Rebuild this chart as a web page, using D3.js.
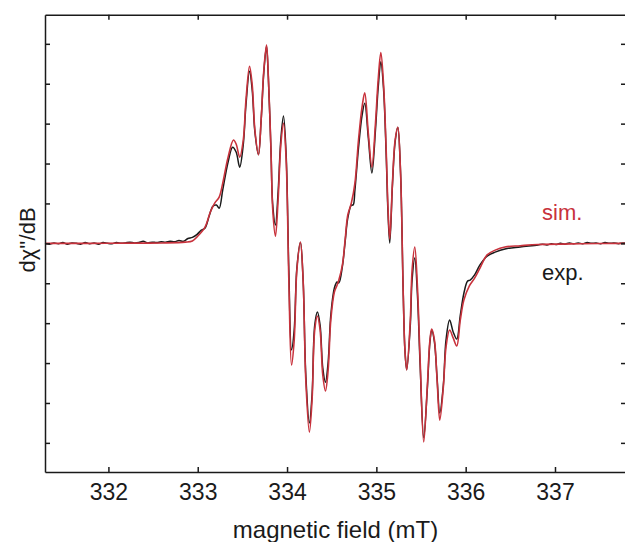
<!DOCTYPE html>
<html>
<head>
<meta charset="utf-8">
<script src="https://cdn.jsdelivr.net/npm/d3@7"></script>
<style>
  body { margin: 0; background: #fff; }
  svg { display: block; font-family: "Liberation Sans", Arial, sans-serif; }
</style>
</head>
<body>
<svg id="chart" width="625" height="542"></svg>
<script>
// tick values
const xTicks = [332, 333, 334, 335, 336, 337];
const yTicks = [-5, -4, -3, -2, -1, 0, 1, 2, 3, 4, 5];

// simulated spectrum (field in mT, derivative signal in arb. units)
const simField = [331.29, 331.8, 332.3, 332.6, 332.86, 332.94, 333.00, 333.08, 333.14, 333.19,
  333.24, 333.28, 333.34, 333.40, 333.43, 333.47, 333.51, 333.54, 333.58, 333.61,
  333.64, 333.68, 333.71, 333.74, 333.77, 333.79, 333.82, 333.84, 333.87, 333.90,
  333.93, 333.96, 333.99, 334.02, 334.05, 334.08, 334.11, 334.15, 334.18, 334.21,
  334.25, 334.28, 334.31, 334.34, 334.37, 334.40, 334.43, 334.46, 334.49, 334.53,
  334.56, 334.58, 334.62, 334.65, 334.68, 334.72, 334.76, 334.80, 334.84, 334.87,
  334.91, 334.95, 334.99, 335.02, 335.05, 335.08, 335.11, 335.13, 335.15, 335.18,
  335.21, 335.24, 335.27, 335.30, 335.32, 335.34, 335.38, 335.40, 335.43, 335.46,
  335.49, 335.53, 335.57, 335.60, 335.62, 335.65, 335.68, 335.71, 335.75, 335.78,
  335.82, 335.86, 335.90, 335.94, 335.98, 336.04, 336.10, 336.16, 336.24, 336.33,
  336.44, 336.61, 336.81, 337.28, 337.80];
const simValues = [0.00, 0.00, 0.005, 0.01, 0.03, 0.06, 0.18, 0.40, 0.78, 1.01,
  1.16, 1.51, 2.16, 2.59, 2.49, 2.16, 2.59, 3.59, 4.44, 3.97,
  2.84, 2.22, 3.09, 4.34, 4.97, 4.22, 2.34, 0.83, 0.18, 1.09,
  2.46, 3.01, 2.09, -0.92, -3.05, -2.43, -0.67, 0.03, -0.92, -3.43,
  -4.73, -3.93, -2.17, -1.82, -2.17, -3.30, -3.70, -3.18, -1.92, -1.22,
  -1.05, -0.92, -0.54, 0.08, 0.71, 1.01, 1.51, 2.59, 3.42, 3.77,
  2.76, 1.91, 3.01, 4.09, 4.78, 4.01, 2.34, 0.91, 0.11, 1.51,
  2.59, 2.91, 1.83, -1.17, -2.68, -3.17, -1.92, -0.67, -0.09, -1.09,
  -2.92, -4.98, -3.60, -2.42, -2.15, -2.42, -3.43, -4.43, -3.60, -2.60,
  -2.17, -2.37, -2.57, -1.92, -1.42, -1.07, -0.87, -0.62, -0.29, -0.17,
  -0.09, -0.06, -0.03, -0.01, 0.00];

// experimental spectrum
const expField = [331.29, 331.34, 331.39, 331.44, 331.49, 331.54, 331.59, 331.64, 331.69, 331.74,
  331.79, 331.84, 331.89, 331.94, 331.99, 332.04, 332.09, 332.14, 332.19, 332.24,
  332.29, 332.34, 332.39, 332.44, 332.49, 332.54, 332.59, 332.64, 332.69, 332.74,
  332.79, 332.84, 332.89, 332.94, 332.99, 333.04, 333.08, 333.13, 333.17, 333.21,
  333.24, 333.28, 333.34, 333.39, 333.43, 333.47, 333.51, 333.54, 333.58, 333.61,
  333.64, 333.68, 333.71, 333.74, 333.77, 333.79, 333.82, 333.84, 333.87, 333.90,
  333.93, 333.96, 333.99, 334.02, 334.05, 334.08, 334.11, 334.15, 334.18, 334.21,
  334.25, 334.28, 334.31, 334.34, 334.37, 334.40, 334.43, 334.46, 334.49, 334.53,
  334.56, 334.58, 334.62, 334.65, 334.68, 334.72, 334.74, 334.76, 334.80, 334.84,
  334.87, 334.91, 334.95, 334.99, 335.02, 335.05, 335.08, 335.11, 335.13, 335.15,
  335.18, 335.21, 335.24, 335.27, 335.30, 335.32, 335.34, 335.38, 335.40, 335.43,
  335.46, 335.49, 335.53, 335.57, 335.60, 335.62, 335.65, 335.68, 335.71, 335.75,
  335.78, 335.82, 335.86, 335.90, 335.94, 335.98, 336.02, 336.05, 336.10, 336.16,
  336.24, 336.33, 336.44, 336.61, 336.81, 336.86, 336.91, 336.96, 337.01, 337.06,
  337.11, 337.16, 337.21, 337.26, 337.31, 337.36, 337.41, 337.46, 337.51, 337.56,
  337.61, 337.66, 337.71, 337.76, 337.80];
const expValues = [0.00, -0.02, 0.01, -0.01, 0.02, -0.02, 0.01, 0.00, -0.02, 0.02,
  -0.01, 0.01, -0.02, 0.02, 0.00, -0.01, 0.02, 0.00, 0.01, 0.03,
  0.01, 0.02, 0.05, 0.01, 0.03, 0.02, 0.04, 0.03, 0.05, 0.04,
  0.07, 0.05, 0.12, 0.15, 0.22, 0.33, 0.38, 0.70, 0.93, 0.96,
  0.88, 1.34, 2.04, 2.41, 2.29, 1.91, 2.48, 3.47, 4.31, 3.84,
  2.79, 2.22, 3.09, 4.29, 4.94, 4.19, 2.34, 0.96, 0.46, 1.29,
  2.59, 3.19, 2.22, -0.67, -2.67, -2.17, -0.62, 0.03, -0.92, -3.30,
  -4.50, -3.80, -2.05, -1.72, -2.05, -3.12, -3.48, -2.98, -1.80, -1.12,
  -0.97, -0.99, -0.57, 0.03, 0.63, 0.96, 0.96, 1.34, 2.39, 3.21,
  3.51, 2.64, 1.76, 2.84, 3.89, 4.55, 3.89, 2.22, 0.78, 0.01,
  1.46, 2.54, 2.91, 1.83, -1.17, -2.68, -3.17, -2.05, -0.92, -0.37,
  -1.30, -3.05, -4.87, -3.67, -2.47, -2.17, -2.47, -3.38, -4.25, -3.55,
  -2.42, -1.92, -2.22, -2.40, -1.80, -1.25, -0.95, -0.92, -0.79, -0.54,
  -0.32, -0.22, -0.14, -0.09, -0.04, -0.02, -0.04, -0.01, -0.03, 0.00,
  -0.02, 0.01, -0.01, 0.01, -0.01, 0.02, 0.00, 0.01, -0.01, 0.02,
  0.00, 0.01, -0.01, 0.01, 0.00];

const RED = "#c8323c";
const INK = "#1a1a1a";

const svg = d3.select("#chart");
const plotLeft = 45, plotRight = 626, plotTop = 14.7, plotBottom = 472;

const x = d3.scaleLinear().domain([331.29, 337.795]).range([plotLeft, plotRight]);
const y = d3.scaleLinear().domain([-5.73, 5.73]).range([plotBottom, plotTop]);

// curves
const line = d3.line()
    .x(d => x(d[0]))
    .y(d => y(d[1]))
    .curve(d3.curveCatmullRom.alpha(0.5));

const plot = svg.append("g");
plot.append("path")
    .attr("d", line(d3.zip(expField, expValues)))
    .attr("fill", "none")
    .attr("stroke", INK)
    .attr("stroke-width", 1.5);

plot.append("path")
    .attr("d", line(d3.zip(simField, simValues)))
    .attr("fill", "none")
    .attr("stroke", RED)
    .attr("stroke-width", 1.6);

// axes, ticks pointing inwards
const tickLen = 5;
svg.append("g")
    .attr("transform", `translate(0,${plotBottom})`)
    .call(d3.axisBottom(x).tickValues(xTicks).tickFormat(d3.format("d"))
        .tickSizeInner(-tickLen).tickSizeOuter(0).tickPadding(12))
    .call(g => g.selectAll("text").attr("font-size", 23).attr("fill", INK).attr("dy", "0.71em"));

svg.append("g")
    .attr("transform", `translate(0,${plotTop})`)
    .call(d3.axisTop(x).tickValues(xTicks).tickSizeInner(-tickLen).tickSizeOuter(0).tickFormat(""));

svg.append("g")
    .attr("transform", `translate(${plotLeft},0)`)
    .call(d3.axisLeft(y).tickValues(yTicks).tickSizeInner(-tickLen).tickSizeOuter(0).tickFormat(""));

svg.append("g")
    .attr("transform", `translate(${plotRight},0)`)
    .call(d3.axisRight(y).tickValues(yTicks).tickSizeInner(-tickLen).tickSizeOuter(0).tickFormat(""));

svg.selectAll(".domain").attr("stroke", INK).attr("stroke-width", 1.5);
svg.selectAll(".tick line").attr("stroke", INK).attr("stroke-width", 1.5);

// labels
svg.append("text")
    .attr("x", 335.5)
    .attr("y", 538)
    .attr("text-anchor", "middle")
    .attr("font-size", 24)
    .attr("fill", INK)
    .text("magnetic field (mT)");

svg.append("text")
    .attr("transform", "translate(35,240) rotate(-90)")
    .attr("text-anchor", "middle")
    .attr("font-size", 22)
    .attr("fill", INK)
    .text("dχ''/dB");

svg.append("text")
    .attr("x", 542)
    .attr("y", 220)
    .attr("font-size", 22)
    .attr("fill", RED)
    .text("sim.");

svg.append("text")
    .attr("x", 542)
    .attr("y", 280)
    .attr("font-size", 22)
    .attr("fill", INK)
    .text("exp.");
</script>
</body>
</html>
